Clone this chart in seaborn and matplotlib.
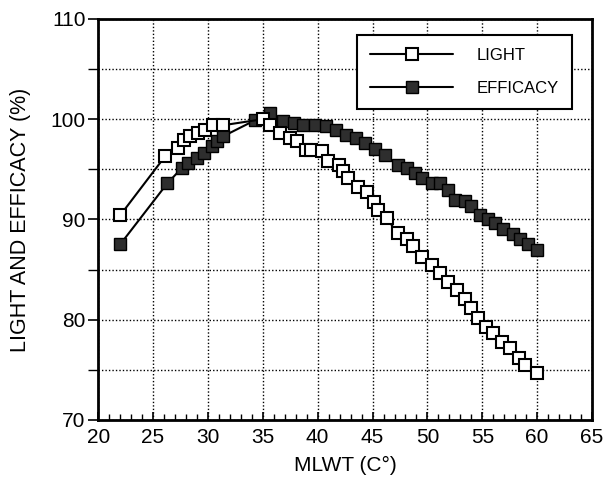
import matplotlib
matplotlib.use("Agg")
import matplotlib.pyplot as plt
from matplotlib.ticker import MultipleLocator, FixedLocator
import seaborn as sns
import pandas as pd

light_x = [22, 26.1, 27.3, 27.8, 28.4, 29.1, 29.7, 30.5, 31.4, 35, 35.7, 36.6, 37.5,
           38.1, 38.9, 39.4, 40.4, 40.9, 41.9, 42.3, 42.8, 43.7, 44.5, 45.1, 45.5,
           46.3, 47.3, 48.1, 48.7, 49.5, 50.4, 51.1, 51.9, 52.7, 53.4, 54.0, 54.6,
           55.3, 56.0, 56.8, 57.5, 58.3, 58.9, 60.0]
light_y = [90.4, 96.3, 97.1, 97.9, 98.3, 98.6, 98.9, 99.4, 99.4, 100.0, 99.4, 98.6, 98.1,
           97.8, 96.9, 96.9, 96.8, 95.8, 95.4, 94.8, 94.1, 93.2, 92.7, 91.7, 90.9,
           90.1, 88.6, 88.0, 87.3, 86.3, 85.5, 84.7, 83.8, 83.0, 82.1, 81.2, 80.2,
           79.3, 78.7, 77.8, 77.2, 76.2, 75.5, 74.7]

eff_x = [22, 26.3, 27.6, 28.2, 29.0, 29.6, 30.4, 30.8, 31.4, 34.3, 35.7, 36.8, 37.8,
         38.7, 39.8, 40.8, 41.7, 42.6, 43.5, 44.3, 45.2, 46.1, 47.3, 48.1, 48.9,
         49.5, 50.4, 51.1, 51.9, 52.5, 53.4, 54.0, 54.8, 55.5, 56.2, 56.9, 57.8,
         58.4, 59.2, 60.0]
eff_y = [87.5, 93.6, 95.1, 95.6, 96.1, 96.6, 97.3, 97.8, 98.3, 99.9, 100.6, 99.8, 99.6,
         99.4, 99.4, 99.3, 98.9, 98.4, 98.1, 97.6, 97.0, 96.4, 95.4, 95.1, 94.6,
         94.1, 93.6, 93.6, 92.9, 91.9, 91.8, 91.3, 90.4, 90.0, 89.6, 89.0, 88.5,
         88.0, 87.5, 87.0]

x_ticks = [20, 25, 30, 35, 40, 45, 50, 55, 60, 65]
y_ticks = [70, 80, 90, 100, 110]

sns.set_style("white")
plt.rcParams['font.family'] = ['Liberation Sans', 'DejaVu Sans']
plt.rcParams['text.color'] = 'black'
plt.rcParams['axes.labelcolor'] = 'black'
plt.rcParams['xtick.color'] = 'black'
plt.rcParams['ytick.color'] = 'black'

fig = plt.figure(figsize=(6.06, 4.86), dpi=100)
ax = fig.add_axes([0.162, 0.136, 0.815, 0.825])

df_l = pd.DataFrame({"x": light_x, "y": light_y})
df_e = pd.DataFrame({"x": eff_x, "y": eff_y})

sns.lineplot(data=df_l, x="x", y="y", ax=ax, sort=False, color="black", lw=1.5,
             marker="s", markersize=8.5, markerfacecolor="white",
             markeredgecolor="black", markeredgewidth=1.5, label="LIGHT", zorder=4)
sns.lineplot(data=df_e, x="x", y="y", ax=ax, sort=False, color="black", lw=1.5,
             marker="s", markersize=8.5, markerfacecolor="#2e2e2e",
             markeredgecolor="black", markeredgewidth=1.0, label="EFFICACY", zorder=3)

ax.set_xlim(20, 65)
ax.set_ylim(70, 110)
ax.xaxis.set_major_locator(FixedLocator(x_ticks))
ax.xaxis.set_minor_locator(MultipleLocator(1))
ax.yaxis.set_major_locator(FixedLocator(y_ticks))
ax.yaxis.set_minor_locator(MultipleLocator(5))

ax.grid(True, which="major", axis="x", color="black", linestyle=(0, (1, 1.5)), lw=1.0)
ax.grid(True, which="both", axis="y", color="black", linestyle=(0, (1, 1.5)), lw=1.0)
ax.grid(False, which="minor", axis="x")

ax.tick_params(axis="x", which="major", direction="in", length=6, width=1.2,
               labelsize=15, pad=6, bottom=True, colors="black")
ax.tick_params(axis="x", which="minor", direction="in", length=4, width=1.0, bottom=True,
               colors="black")
ax.tick_params(axis="y", which="major", direction="out", length=7, width=1.2,
               labelsize=15, pad=2, left=True, colors="black")
ax.tick_params(axis="y", which="minor", direction="out", length=7, width=1.0, left=True,
               colors="black")

for s in ax.spines.values():
    s.set_color("black")
    s.set_linewidth(2)

ax.set_xlabel("MLWT (C°)", fontsize=15, labelpad=6, color="black")
ax.set_ylabel("LIGHT AND EFFICACY (%)", fontsize=15.5, labelpad=14, color="black")

leg = ax.legend(loc="upper right", bbox_to_anchor=(0.96, 0.96), fontsize=12,
                frameon=True, fancybox=False, handlelength=5.0, handletextpad=1.4,
                borderpad=0.8, labelspacing=1.05, numpoints=1, borderaxespad=0)
leg.get_frame().set_edgecolor("black")
leg.get_frame().set_linewidth(1.5)
leg.get_frame().set_alpha(1)
for t in leg.get_texts():
    t.set_color("black")

fig.savefig("out.png", dpi=100)
